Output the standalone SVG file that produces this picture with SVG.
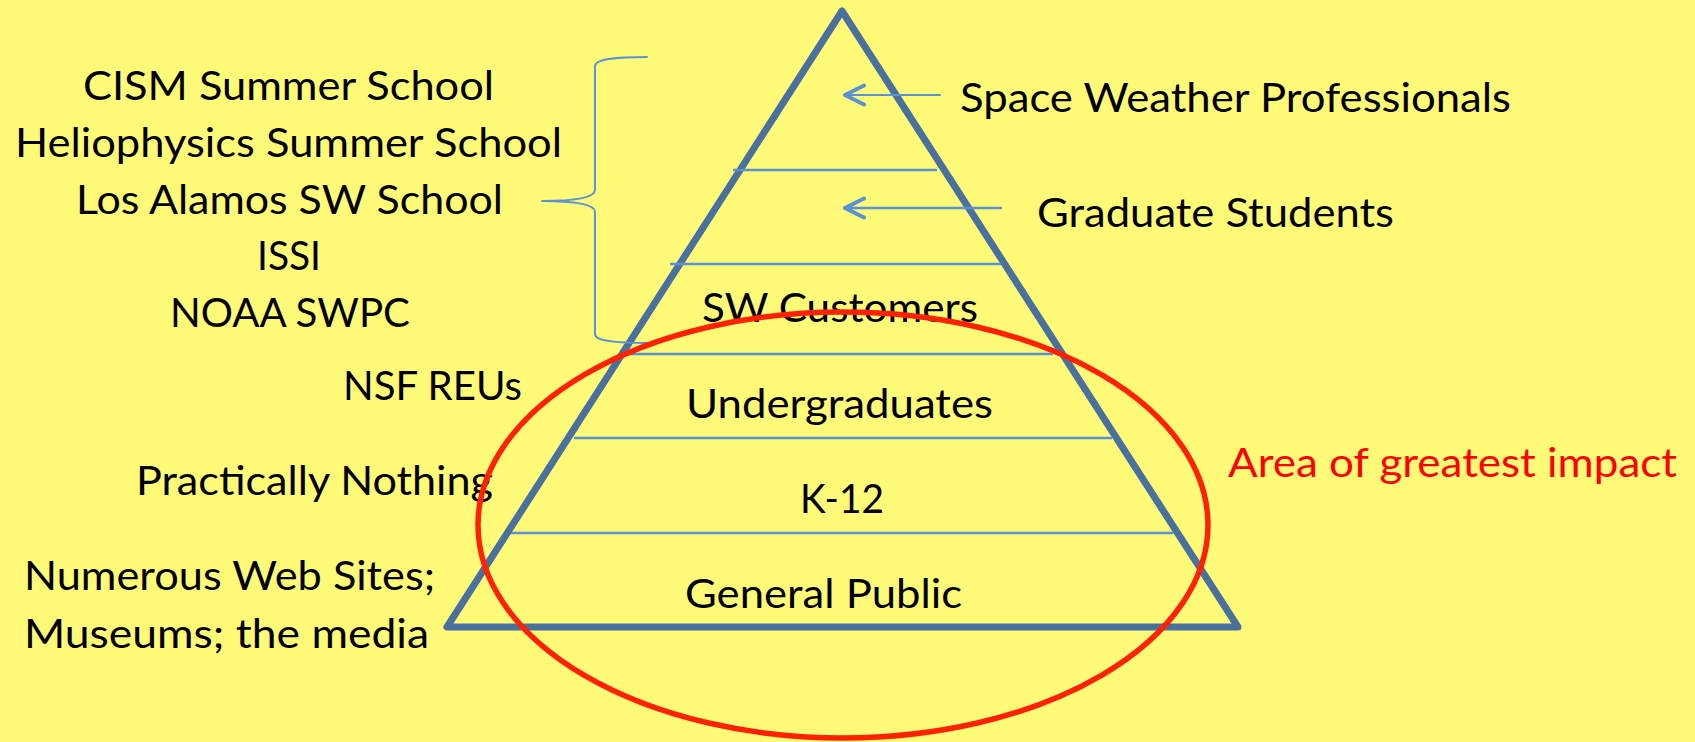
<svg xmlns="http://www.w3.org/2000/svg" width="1695" height="742" viewBox="0 0 1695 742">
  <defs>
    <style>
      .t { font-family: Lato, "Open Sans", "Liberation Sans", sans-serif; font-size: 41px; fill: #000000; }
      .red { fill: #FF0000; }
      .band { stroke: #5A93D3; stroke-width: 2.5; fill: none; }
      .conn { stroke: #5A93D3; fill: none; stroke-linecap: round; stroke-linejoin: round; }
    </style>
    <marker id="chev" viewBox="0 0 24 24" markerWidth="24" markerHeight="24" refX="22" refY="12" orient="auto" markerUnits="userSpaceOnUse">
      <path d="M3,2.5 L22,12 L3,21.5" fill="none" stroke="#5A93D3" stroke-width="4" stroke-linecap="round" stroke-linejoin="round"/>
    </marker>
  </defs>
  <rect x="0" y="0" width="1695" height="742" fill="#FFFA78"/>

  <g id="pyramid">
    <polygon points="842,11 447,627 1238,627" fill="none" stroke="#4A709E" stroke-width="7" stroke-linejoin="round"/>
    <line class="band" x1="733" y1="170" x2="937" y2="170"/>
    <line class="band" x1="670" y1="264" x2="1001" y2="264"/>
    <line class="band" x1="627" y1="354" x2="1053" y2="354"/>
    <line class="band" x1="574" y1="438" x2="1112" y2="438"/>
    <line class="band" x1="511" y1="533" x2="1173" y2="533"/>
  </g>

  <g id="tier-labels">
    <text class="t" x="702" y="322" textLength="276" lengthAdjust="spacingAndGlyphs">SW Customers</text>
    <text class="t" x="686" y="418" textLength="307" lengthAdjust="spacingAndGlyphs">Undergraduates</text>
    <text class="t" x="800" y="513" textLength="84" lengthAdjust="spacingAndGlyphs">K-12</text>
    <text class="t" x="685" y="608" textLength="277" lengthAdjust="spacingAndGlyphs">General Public</text>
  </g>

  <g id="schools">
    <text class="t" x="83" y="100" textLength="411" lengthAdjust="spacingAndGlyphs">CISM Summer School</text>
    <text class="t" x="15" y="157" textLength="547" lengthAdjust="spacingAndGlyphs">Heliophysics Summer School</text>
    <text class="t" x="76" y="214" textLength="427" lengthAdjust="spacingAndGlyphs">Los Alamos SW School</text>
    <text class="t" x="257" y="270" textLength="64" lengthAdjust="spacingAndGlyphs">ISSI</text>
    <text class="t" x="170" y="327" textLength="240" lengthAdjust="spacingAndGlyphs">NOAA SWPC</text>
  </g>

  <g id="nsf-reus">
    <text class="t" x="343" y="400" textLength="179" lengthAdjust="spacingAndGlyphs">NSF REUs</text>
  </g>
  <g id="practically-nothing">
    <text class="t" x="136" y="495" textLength="357" lengthAdjust="spacingAndGlyphs">Practically Nothing</text>
  </g>
  <g id="web-sites">
    <text class="t" x="24" y="590" textLength="411" lengthAdjust="spacingAndGlyphs">Numerous Web Sites;</text>
    <text class="t" x="24" y="648" textLength="405" lengthAdjust="spacingAndGlyphs">Museums; the media</text>
  </g>

  <g id="space-weather-professionals">
    <text class="t" x="960" y="112" textLength="551" lengthAdjust="spacingAndGlyphs">Space Weather Professionals</text>
  </g>
  <g id="graduate-students">
    <text class="t" x="1037" y="227" textLength="357" lengthAdjust="spacingAndGlyphs">Graduate Students</text>
  </g>

  <g id="connectors">
    <line class="conn" x1="940" y1="95" x2="845" y2="95" stroke-width="2" marker-end="url(#chev)"/>
    <line class="conn" x1="1001" y1="208" x2="845" y2="208" stroke-width="2.5" marker-end="url(#chev)"/>
    <path class="conn" stroke-width="2" d="M647,57 C615,57 595,59 595,66 L595,190 C595,197 580,201 542,201 C580,201 595,205 595,212 L595,334 C595,341 615,343 647,343"/>
  </g>

  <g id="impact-area">
    <ellipse cx="843" cy="525" rx="365" ry="213" fill="none" stroke="#FF2200" stroke-width="5.5"/>
    <text class="t red" x="1228" y="477" textLength="449" lengthAdjust="spacingAndGlyphs">Area of greatest impact</text>
  </g>
</svg>
